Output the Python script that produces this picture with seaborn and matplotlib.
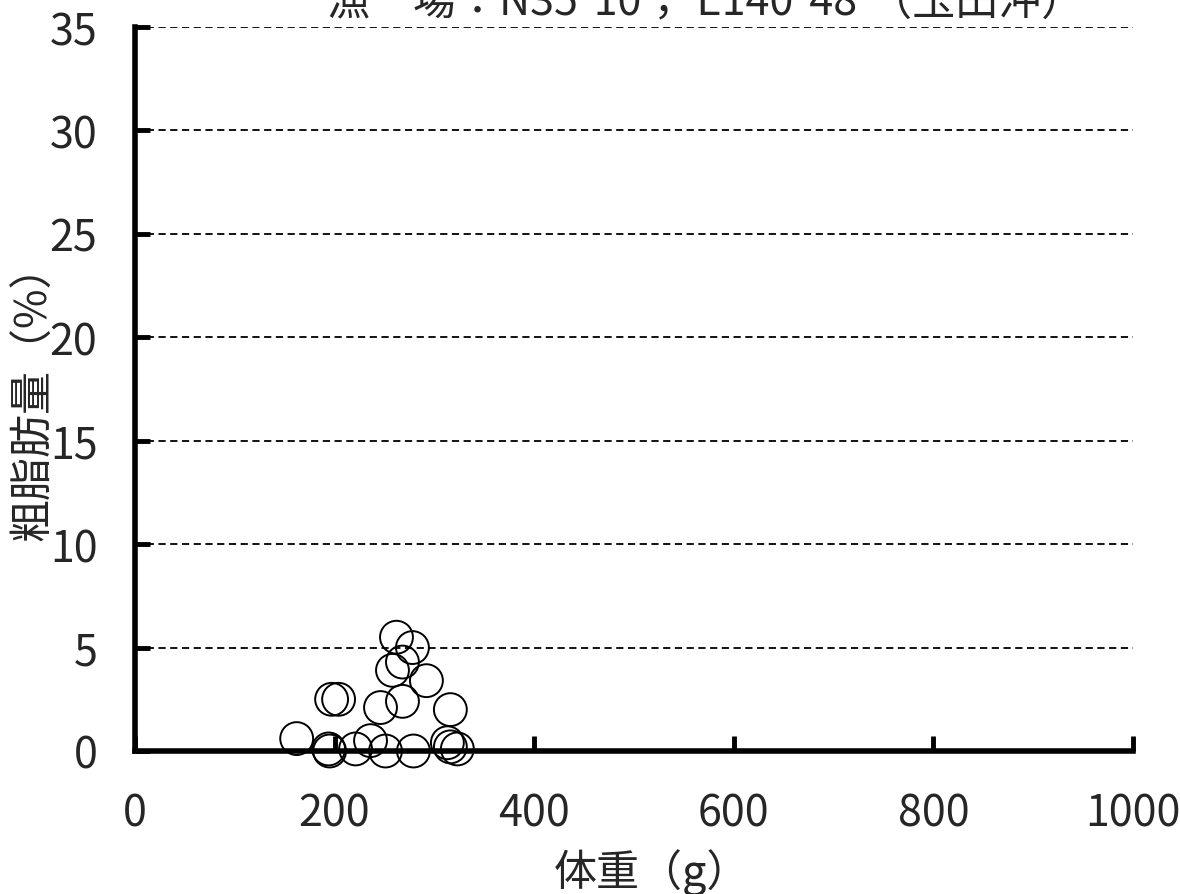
import matplotlib
matplotlib.use("Agg")
import matplotlib.pyplot as plt
import seaborn as sns
import pandas as pd

weight = [262, 278, 268, 258, 292, 197, 204, 246, 268, 316, 162, 194, 195, 221, 236, 251, 279, 313, 316, 323]
fat = [5.5, 5.0, 4.3, 3.9, 3.4, 2.5, 2.5, 2.1, 2.4, 2.0, 0.6, 0.1, 0.0, 0.1, 0.5, 0.0, 0.0, 0.4, 0.2, 0.1]
xticks = [0, 200, 400, 600, 800, 1000]
yticks = [0, 5, 10, 15, 20, 25, 30, 35]
title = "漁　場：N35°10′，E140°48′（玉田沖）"
xlabel = "体重（g）"
ylabel = "粗脂肪量（%）"

sns.set_theme(style="white")
plt.rcParams['font.family'] = ['Noto Sans CJK JP', 'DejaVu Sans']

df = pd.DataFrame({"w": weight, "f": fat})
fig = plt.figure(figsize=(11.8, 8.95), dpi=100)
ax = fig.add_axes([135/1180, 1-752/895, (1133-135)/1180, (752-28)/895])

for y in yticks[1:]:
    ax.axhline(y, color="black", lw=1.3, ls=(0, (4, 2.5)), zorder=1)

sns.scatterplot(data=df, x="w", y="f", ax=ax, s=560, facecolor="none",
                edgecolor="black", linewidth=1.4, zorder=3, clip_on=False)

ax.set_xlim(0, 1000)
ax.set_ylim(0, 35)
ax.set_xticks(xticks)
ax.set_yticks(yticks)
ax.set_xticklabels([str(v) for v in xticks], fontsize=31)
ax.set_yticklabels([str(v) for v in yticks], fontsize=31)
ax.tick_params(axis="both", direction="in", length=11, width=3.5, color="black",
               bottom=True, left=True, top=False, right=False)
ax.tick_params(axis="y", pad=27)
ax.tick_params(axis="x", pad=29)

for s in ["top", "right"]:
    ax.spines[s].set_visible(False)
for s in ["left", "bottom"]:
    ax.spines[s].set_linewidth(4)
    ax.spines[s].set_color("black")

ax.set_xlabel("")
ax.set_ylabel("")
fig.text(652/1180, 1-873/895, xlabel, fontsize=31, ha="center", va="center")
fig.text(34/1180, 1-392/895, ylabel, fontsize=31, ha="center", va="center", rotation=90)
fig.text(706/1180, 1-15/895, title, fontsize=31, ha="center", va="baseline")

fig.savefig("out.png", dpi=100)
